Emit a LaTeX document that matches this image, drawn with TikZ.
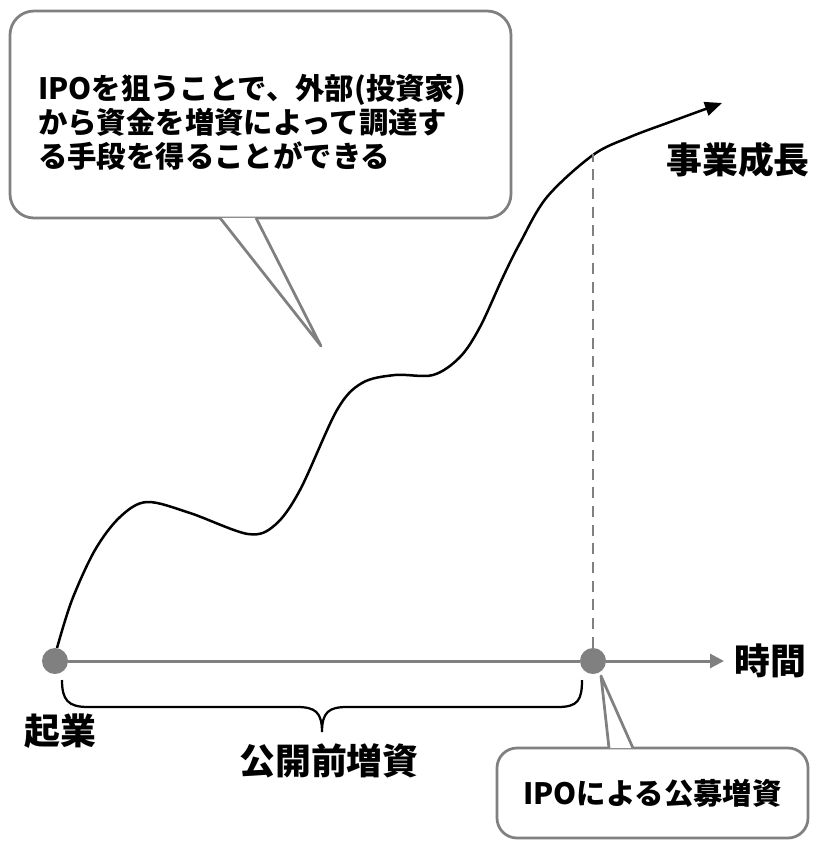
\documentclass[tikz,border=0pt]{standalone}
\usepackage{fontspec}
\newfontfamily\jpfont{Noto Sans CJK JP}
\usepackage{tikz}
\usepackage{xcolor}
\definecolor{ipogray}{RGB}{128, 128, 128}
\usetikzlibrary{calc,positioning,arrows.meta}

\begin{document}
\begin{tikzpicture}[x=1bp, y=-1bp,
    notefont/.style={font=\jpfont\bfseries\fontsize{29.5}{34}\selectfont},
    bigtext/.style={font=\jpfont\bfseries\fontsize{36}{40}\selectfont, inner sep=0pt},
    callout/.style={draw=ipogray, line width=2.75bp, fill=white, rounded corners=24bp},
    tail/.style={draw=ipogray, line width=2.75bp, fill=white, line join=round},
    dot/.style={circle, fill=ipogray, minimum size=26bp, inner sep=0pt},
    axis/.style={ipogray, line width=3bp}
]
    \useasboundingbox (0,0) rectangle (816,843);

    % Speech bubble at the top
    \node[callout, minimum width=501bp, minimum height=207bp] (note) at (260.5,114.5) {};
    \coordinate (notetip) at (321,346);
    \filldraw[tail] ($(note.south)+(-40.5,-1.5)$) -- (notetip) -- ($(note.south)+(-4.5,-1.5)$);
    \node[notefont, anchor=north west, align=left, inner sep=0pt] (notetext) at (38,74)
        {IPOを狙うことで、外部(投資家)\\から資金を増資によって調達す\\る手段を得ることができる};

    % Growth curve
    \draw[black, line width=2.5bp, -{Triangle[length=17bp, width=14bp]}]
        plot[smooth, tension=0.55] coordinates {
            (57,648) (72,600) (95,550) (120,517) (147,502) (190,513) (248,534)
            (275,525) (300,490) (337,410) (362,383) (395,375) (433,375) (460,357)
            (480,327) (503,277) (520,243) (547,197) (593,155) (630,137) (670,122) (722,103)
        };
    \node[bigtext] (growthlabel) at (738,160) {事業成長};

    % Time axis
    \node[dot] (start) at (55,661) {};
    \node[dot] (ipo) at (593,661) {};
    \node[bigtext, anchor=west, inner xsep=10bp] (time) at (724,661) {時間};
    \coordinate (peak) at (593,154);
    \draw[ipogray, line width=2.6bp, dash pattern=on 11bp off 7.7bp] (ipo) -- (peak);
    \draw[axis] (start) -- (ipo);
    \draw[axis, -{Triangle[length=14bp, width=14bp]}] (ipo) -- (time);

    % Brace below the axis
    \draw[black, line width=2.25bp] (62,680) .. controls (62,700) and (68,707) .. (88,707)
        -- (297,707) .. controls (315,707) and (322,712) .. (322,732)
        .. controls (322,712) and (329,707) .. (347,707)
        -- (558,707) .. controls (578,707) and (582,700) .. (582,680);
    \node[bigtext] (founding) at (60,731) {起業};
    \node[bigtext] (prelabel) at (329,761) {公開前増資};

    % IPO box
    \node[callout, rounded corners=20bp, minimum width=311bp, minimum height=90bp, notefont] (ipobox) at (652.5,793) {IPOによる公募増資};
    \coordinate (ipotip) at (601,676);
    \filldraw[tail] ($(ipobox.north)+(-43.5,1.5)$) -- (ipotip) -- ($(ipobox.north)+(-19.5,1.5)$);
\end{tikzpicture}
\end{document}
